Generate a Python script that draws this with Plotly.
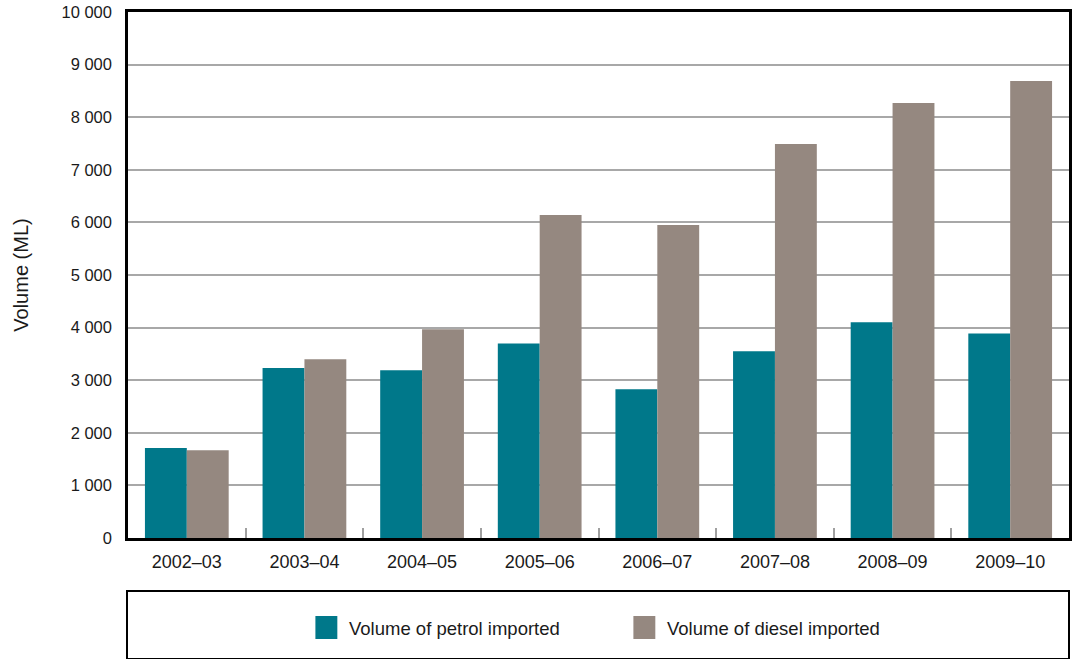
import plotly.graph_objects as go

categories = ["2002–03", "2003–04", "2004–05", "2005–06", "2006–07", "2007–08", "2008–09", "2009–10"]
petrol = [1710, 3230, 3190, 3700, 2830, 3550, 4100, 3890]
diesel = [1670, 3400, 3970, 6140, 5950, 7490, 8270, 8690]
series_names = ["Volume of petrol imported", "Volume of diesel imported"]
series_colors = ["#00788A", "#958880"]
y_tickvals = [0, 1000, 2000, 3000, 4000, 5000, 6000, 7000, 8000, 9000, 10000]
y_ticktext = ["0", "1 000", "2 000", "3 000", "4 000", "5 000", "6 000", "7 000", "8 000", "9 000", "10 000"]

FONT = "Liberation Sans, Arial, Helvetica, sans-serif"
W, H = 1075, 659
ML, MR, MT, MB = 128, 3, 12, 121
PW = W - ML - MR
PH = H - MT - MB

def px_x(px):
    return (px - ML) / PW

def px_y(py):
    return (H - MB - py) / PH

fig = go.Figure()
for name, vals, col in zip(series_names, [petrol, diesel], series_colors):
    fig.add_trace(go.Bar(x=categories, y=vals, name=name, marker=dict(color=col, line=dict(width=0)),
                         showlegend=False, hoverinfo="skip"))

fig.update_layout(
    width=W, height=H,
    margin=dict(l=ML, r=MR, t=MT, b=MB),
    paper_bgcolor="white", plot_bgcolor="white",
    barmode="group", bargap=0.288, bargroupgap=0,
    font=dict(family=FONT, size=16, color="#1a1a1a"),
)
fig.update_xaxes(
    type="category", showgrid=False, showline=True, linecolor="black", linewidth=2.5, mirror=True,
    ticks="inside", tickson="boundaries", ticklen=10, tickcolor="#A0A0A0", tickwidth=1.5,
    tickfont=dict(family=FONT, size=18, color="#1a1a1a"), ticklabelstandoff=6,
)
fig.update_yaxes(
    range=[0, 10000], tickvals=y_tickvals, ticktext=y_ticktext,
    showgrid=True, gridcolor="#A8A8A8", gridwidth=1.5, zeroline=False,
    showline=True, linecolor="black", linewidth=2.5, mirror=True, ticks="",
    tickfont=dict(family=FONT, size=16.5, color="#1a1a1a"), ticklabelstandoff=10,
    title=dict(text="Volume (ML)", font=dict(family=FONT, size=20, color="#1a1a1a"), standoff=28),
)

# Legend box drawn manually
fig.add_shape(type="rect", xref="paper", yref="paper",
              x0=px_x(127), x1=px_x(1072), y0=px_y(659), y1=px_y(591),
              line=dict(color="black", width=2), fillcolor="rgba(0,0,0,0)", layer="above")
legend_pos = [(316, 348), (635, 667)]
for (mx, tx), name, col in zip(legend_pos, series_names, series_colors):
    fig.add_shape(type="rect", xref="paper", yref="paper",
                  x0=px_x(mx), x1=px_x(mx + 22), y0=px_y(639), y1=px_y(616),
                  line=dict(width=0), fillcolor=col)
    fig.add_annotation(xref="paper", yref="paper", x=px_x(tx), y=px_y(628), text=name,
                       showarrow=False, xanchor="left", yanchor="middle",
                       font=dict(family=FONT, size=18.5, color="#1a1a1a"))

fig.write_html("out.html", config={"displayModeBar": False},
               post_script="document.body.style.margin='0px';")
